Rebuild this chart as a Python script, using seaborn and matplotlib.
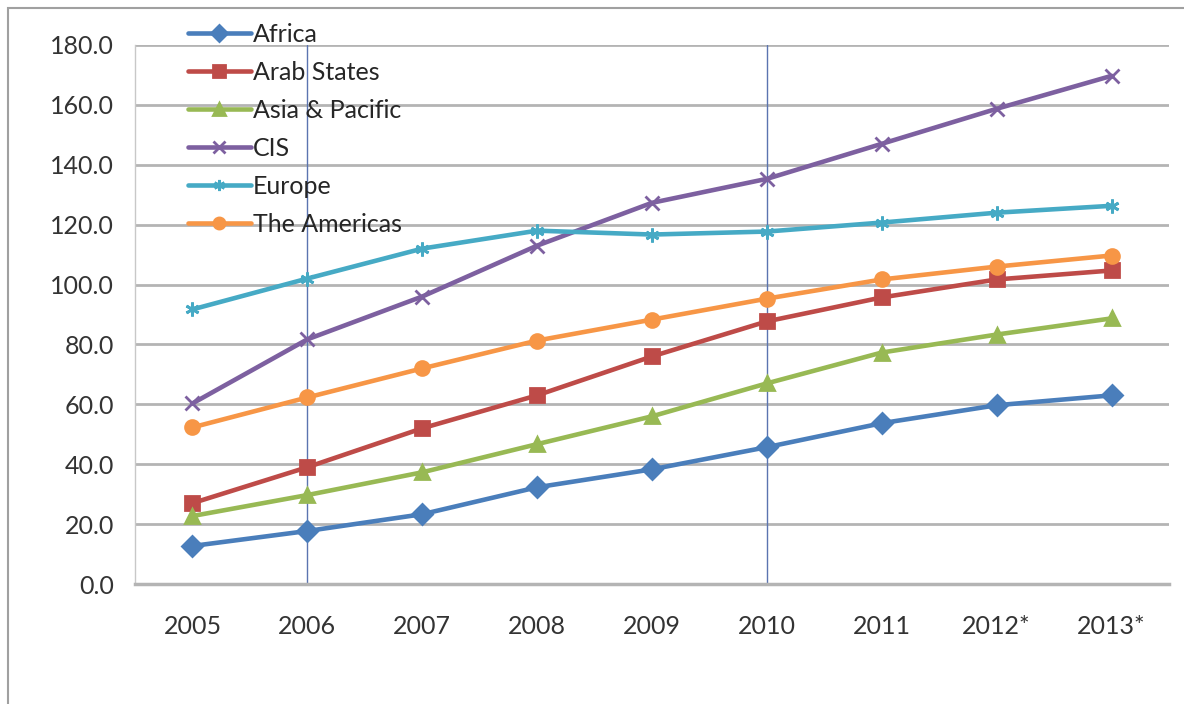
import matplotlib
matplotlib.use("Agg")
import matplotlib.pyplot as plt
import seaborn as sns
import pandas as pd
from matplotlib.patches import Rectangle
from matplotlib.lines import Line2D

years = ["2005", "2006", "2007", "2008", "2009", "2010", "2011", "2012*", "2013*"]
regions = ["Africa", "Arab States", "Asia & Pacific", "CIS", "Europe", "The Americas"]
africa = [12.7, 17.7, 23.3, 32.3, 38.3, 45.7, 53.7, 59.7, 63.0]
arab_states = [27.0, 39.0, 52.0, 63.0, 76.0, 87.7, 95.7, 101.7, 104.7]
asia_pacific = [22.7, 29.7, 37.3, 46.7, 56.0, 67.0, 77.3, 83.3, 88.7]
cis = [60.3, 81.7, 96.0, 113.0, 127.3, 135.3, 147.0, 158.7, 169.7]
europe = [91.7, 102.0, 112.0, 118.0, 116.7, 117.7, 120.7, 124.0, 126.3]
americas = [52.3, 62.3, 72.0, 81.3, 88.3, 95.3, 101.7, 106.0, 109.7]
series = [africa, arab_states, asia_pacific, cis, europe, americas]
y_ticks = [0, 20, 40, 60, 80, 100, 120, 140, 160, 180]
vlines_at = ["2006", "2010"]

colors = ["#4A7EBB", "#BE4B48", "#98B954", "#7D60A0", "#46AAC5", "#F79646"]
markers = ["D", "s", "^", "x", (6, 2, 0), "o"]

sns.set_style("white")
plt.rcParams["font.family"] = ["Lato", "DejaVu Sans"]

fig = plt.figure(figsize=(11.84, 7.04), dpi=100)
ax = fig.add_axes([135/1184, 1-584/704, (1169-135)/1184, (584-45)/704])

for reg, vals, c, m in zip(regions, series, colors, markers):
    d = pd.DataFrame({"year": years, "value": vals})
    sns.lineplot(data=d, x="year", y="value", color=c, marker=m, linewidth=3.3,
                 markersize=10, markeredgewidth=2, markeredgecolor=c,
                 ax=ax, sort=False, legend=False)

ax.set_xlim(-0.5, len(years) - 0.5)
ax.set_ylim(0, 180)
ax.set_yticks(y_ticks)
ax.set_yticklabels([f"{v:.1f}" for v in y_ticks])
ax.set_xticks(range(len(years)))
ax.set_xticklabels(years)
ax.set_xlabel("")
ax.set_ylabel("")
for v in y_ticks[1:]:
    ax.axhline(v, color="#b4b4b4", lw=2, zorder=0)
for yr in vlines_at:
    ax.axvline(years.index(yr), color="#5b74b0", lw=1, zorder=0.5)

ax.set_xticks([i - 0.5 for i in range(len(years) + 1)], minor=True)
ax.tick_params(axis="x", which="major", length=0, labelsize=18, pad=22, labelcolor="#333333")
ax.tick_params(axis="x", which="minor", length=7, width=1.5, color="#b4b4b4", direction="out")
ax.tick_params(axis="y", which="major", length=7, width=1.5, color="#b4b4b4", labelsize=18,
               pad=8, labelcolor="#333333")
for s in ["top", "right"]:
    ax.spines[s].set_visible(False)
ax.spines["left"].set_color("#c8c8c8")
ax.spines["left"].set_linewidth(1)
ax.spines["bottom"].set_color("#b4b4b4")
ax.spines["bottom"].set_linewidth(2.5)

handles = [Line2D([0], [0], color=c, lw=3.3, marker=m, markersize=8,
                  markeredgecolor=c, markeredgewidth=2)
           for c, m in zip(colors, markers)]
fig.legend(handles, regions, loc="upper left", bbox_to_anchor=(188/1184, 1-23/704),
           frameon=False, fontsize=18, handlelength=2.5, handletextpad=0.1,
           labelspacing=0.6, borderaxespad=0, borderpad=0)

fig.patches.append(Rectangle((8/1184, -0.05), 1.1, 1 - 8/704 + 0.05,
                             transform=fig.transFigure, fill=False,
                             edgecolor="#a0a0a0", lw=1.5))

fig.savefig("out.png", dpi=100)
